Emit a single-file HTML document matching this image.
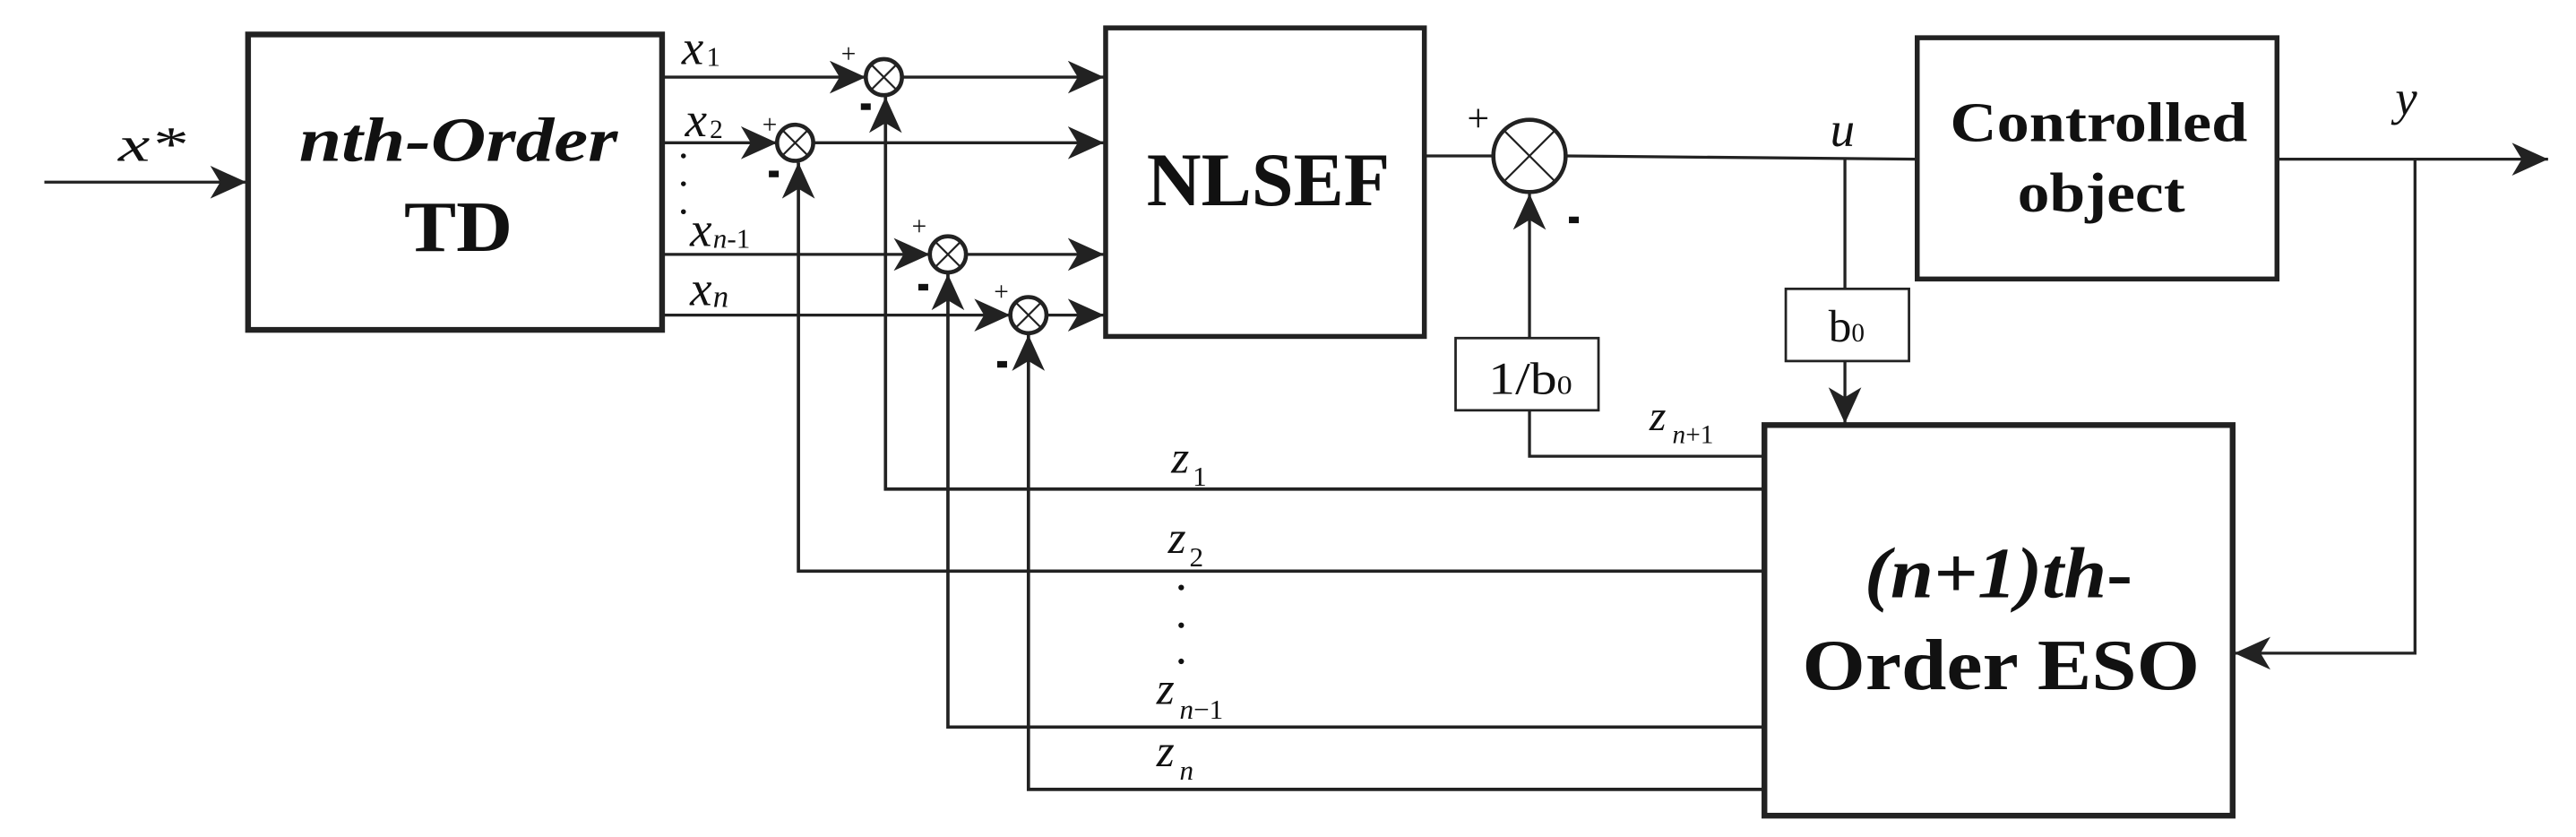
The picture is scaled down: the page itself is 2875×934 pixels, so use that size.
<!DOCTYPE html>
<html><head><meta charset="utf-8"><style>html,body{margin:0;padding:0;background:#fff}svg{display:block}text{font-family:"Liberation Serif",serif}</style></head>
<body>
<svg width="2875" height="934" viewBox="0 0 1568 510" preserveAspectRatio="none" xmlns="http://www.w3.org/2000/svg">
<defs>
<marker id="a" viewBox="0 0 22 20" refX="22" refY="10" markerWidth="22" markerHeight="20" markerUnits="userSpaceOnUse" orient="auto">
<path d="M0,0 L22,10 L0,20 L6,10 Z" fill="#222"/></marker>
</defs>
<g fill="none" stroke="#222">
<rect x="151" y="21" width="252" height="180" stroke-width="3.5"/>
<rect x="673" y="17" width="194" height="188" stroke-width="3"/>
<rect x="1167" y="23" width="219" height="147" stroke-width="3"/>
<rect x="1074" y="259" width="285" height="238" stroke-width="3.5"/>
<rect x="886" y="206" width="87" height="44" stroke-width="1.5"/>
<rect x="1087" y="176" width="75" height="44" stroke-width="1.5"/>
<circle cx="538" cy="47" r="11" stroke-width="2.5"/>
<circle cx="484" cy="87" r="11" stroke-width="2.5"/>
<circle cx="577" cy="155" r="11" stroke-width="2.5"/>
<circle cx="626" cy="192" r="11" stroke-width="2.5"/>
<circle cx="931" cy="95" r="22" stroke-width="2.5"/>
<g stroke-width="1.2">
<path d="M530,39 L546,55 M546,39 L530,55"/>
<path d="M476,79 L492,95 M492,79 L476,95"/>
<path d="M569,147 L585,163 M585,147 L569,163"/>
<path d="M618,184 L634,200 M634,184 L618,200"/>
<path d="M915,79 L947,111 M947,79 L915,111"/>
</g>
<g stroke-width="1.8">
<path d="M27,111 H150" marker-end="url(#a)"/>
<path d="M403,47 H527" marker-end="url(#a)"/>
<path d="M549,47 H672" marker-end="url(#a)"/>
<path d="M403,87 H473" marker-end="url(#a)"/>
<path d="M495,87 H672" marker-end="url(#a)"/>
<path d="M403,155 H566" marker-end="url(#a)"/>
<path d="M588,155 H672" marker-end="url(#a)"/>
<path d="M403,192 H615" marker-end="url(#a)"/>
<path d="M637,192 H672" marker-end="url(#a)"/>
<path d="M867,95 H909"/>
<path d="M953,95 L1167,97"/>
<path d="M1123,96 V176"/>
<path d="M1123,220 V258" marker-end="url(#a)"/>
<path d="M1386,97 H1551" marker-end="url(#a)"/>
<path d="M1470,97 V398 H1360" marker-end="url(#a)"/>
<path d="M931,206 V118" marker-end="url(#a)"/>
<path d="M931,250 V278 H1074"/>
</g>
<g stroke-width="2">
<path d="M1074,298 H539 V59" marker-end="url(#a)"/>
<path d="M1074,348 H486 V99" marker-end="url(#a)"/>
<path d="M1074,443 H577 V167" marker-end="url(#a)"/>
<path d="M1074,481 H626 V204" marker-end="url(#a)"/>
</g>
</g>
<g fill="#111">
<text x="72" y="98" font-size="30" font-style="italic" textLength="41" lengthAdjust="spacingAndGlyphs">x*</text>
<text x="182" y="98" font-size="38" font-weight="bold" font-style="italic" textLength="194" lengthAdjust="spacingAndGlyphs">nth-Order</text>
<text x="246" y="153" font-size="44" font-weight="bold" textLength="66" lengthAdjust="spacingAndGlyphs">TD</text>
<text x="415" y="39" font-size="30" font-style="italic">x</text><text x="430" y="40" font-size="17">1</text>
<text x="417" y="83" font-size="30" font-style="italic">x</text><text x="432" y="84" font-size="16">2</text>
<circle cx="416" cy="95" r="1.5"/><circle cx="416" cy="112" r="1.5"/><circle cx="416" cy="129" r="1.5"/>
<text x="420" y="150" font-size="30" font-style="italic">x</text><text x="434" y="151" font-size="17"><tspan font-style="italic">n</tspan>-1</text>
<text x="420" y="186" font-size="30" font-style="italic">x</text><text x="434" y="187" font-size="19" font-style="italic">n</text>
<g font-size="16">
<text x="512" y="38">+</text><text x="464" y="81">+</text><text x="555" y="143">+</text><text x="605" y="183">+</text>
</g>
<rect x="524" y="63" width="6" height="4"/><rect x="468" y="104" width="6" height="4"/><rect x="559" y="173" width="6" height="4"/><rect x="607" y="220" width="6" height="4"/>
<rect x="955" y="132" width="6" height="4"/>
<text x="893" y="80" font-size="24">+</text>
<text x="698" y="125" font-size="46" font-weight="bold" textLength="148" lengthAdjust="spacingAndGlyphs">NLSEF</text>
<text x="1187" y="86" font-size="34" font-weight="bold" textLength="181" lengthAdjust="spacingAndGlyphs">Controlled</text>
<text x="1228" y="129" font-size="34" font-weight="bold" textLength="102" lengthAdjust="spacingAndGlyphs">object</text>
<text x="1114" y="89" font-size="30" font-style="italic">u</text>
<text x="1458" y="70" font-size="30" font-style="italic">y</text>
<text x="906" y="240" font-size="28" textLength="51" lengthAdjust="spacingAndGlyphs">1/b<tspan font-size="16">0</tspan></text>
<text x="1113" y="208" font-size="28">b<tspan font-size="16">0</tspan></text>
<text x="1004" y="262" font-size="26" font-style="italic">z</text><text x="1018" y="270" font-size="16"><tspan font-style="italic">n</tspan>+1</text>
<text x="1135" y="364" font-size="44" font-weight="bold" textLength="163" lengthAdjust="spacingAndGlyphs"><tspan font-style="italic">(n+1)th</tspan>-</text>
<text x="1097" y="420" font-size="44" font-weight="bold" textLength="242" lengthAdjust="spacingAndGlyphs">Order  ESO</text>
<text x="713" y="288" font-size="28" font-style="italic">z</text><text x="726" y="296" font-size="17">1</text>
<text x="711" y="337" font-size="28" font-style="italic">z</text><text x="724" y="345" font-size="17">2</text>
<circle cx="719" cy="358" r="1.7"/><circle cx="719" cy="381" r="1.7"/><circle cx="719" cy="403" r="1.7"/>
<text x="704" y="429" font-size="28" font-style="italic">z</text><text x="718" y="438" font-size="17"><tspan font-style="italic">n</tspan>−1</text>
<text x="704" y="467" font-size="28" font-style="italic">z</text><text x="718" y="475" font-size="17" font-style="italic">n</text>
</g>
</svg>
</body></html>
